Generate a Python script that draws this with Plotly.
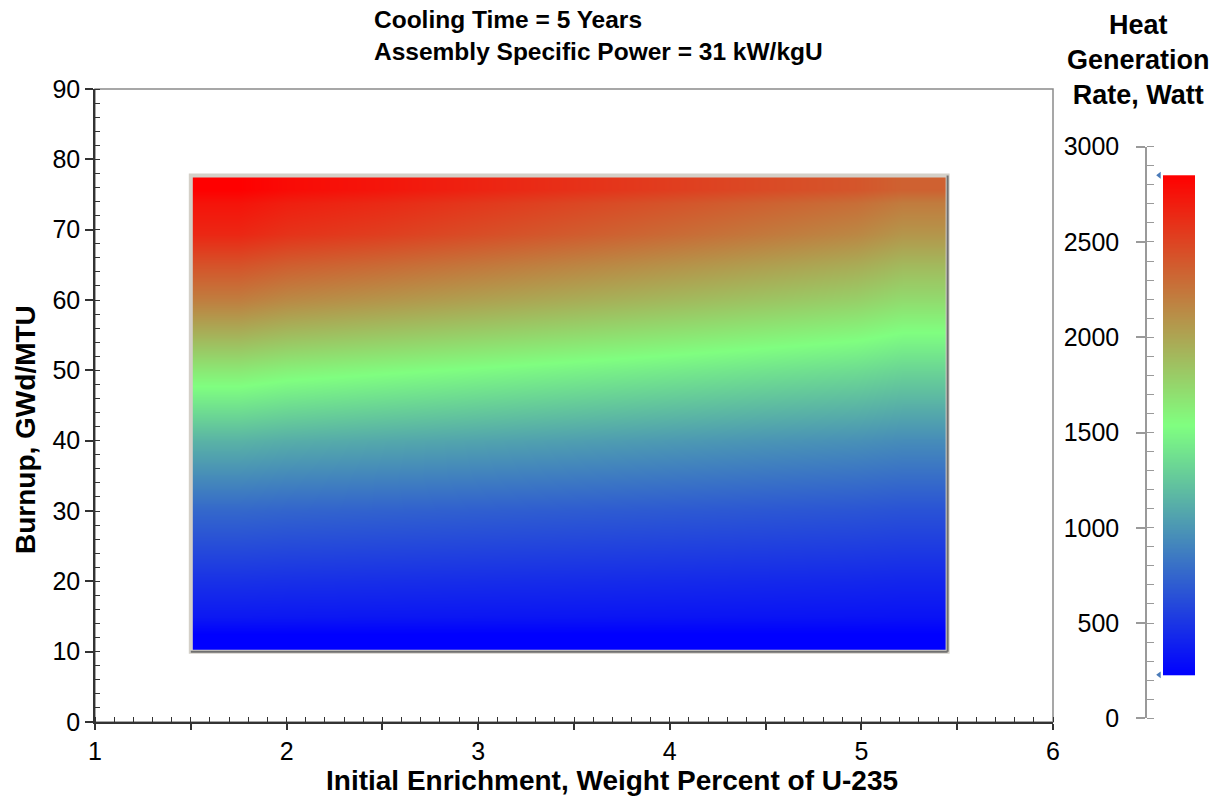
import numpy as np
import plotly.graph_objects as go

# ---------------- data ----------------
enrichment = [1.5, 2.5, 3.5, 4.5, 5.45]          # wt% U-235
burnup = [10, 20, 30, 40, 50, 60, 70, 77.7]      # GWd/MTU
heat_e15 = [230, 480, 760, 1150, 1650, 2200, 2650, 2850]
heat_e25 = [230, 465, 730, 1095, 1560, 2080, 2530, 2740]
heat_e35 = [229, 450, 700, 1045, 1475, 1960, 2380, 2600]
heat_e45 = [228, 435, 675, 995, 1395, 1840, 2230, 2470]
heat_e545 = [228, 420, 650, 950, 1320, 1720, 2080, 2350]

title_text = "Cooling Time = 5 Years<br>Assembly Specific Power = 31 kW/kgU"
x_title = "Initial Enrichment, Weight Percent of U-235"
y_title = "Burnup, GWd/MTU"
cb_title = "Heat<br>Generation<br>Rate, Watt"
x_ticks = [1, 2, 3, 4, 5, 6]
cb_ticks = [0, 500, 1000, 1500, 2000, 2500, 3000]

# ---------------- derived ----------------
z = np.array([heat_e15, heat_e25, heat_e35, heat_e45, heat_e545]).T
zmin, zmax = float(z.min()), float(z.max())


def edges(c):
    c = list(c)
    mids = [(a + b) / 2 for a, b in zip(c[:-1], c[1:])]
    return [c[0]] + mids + [c[-1]]


x_edges = edges(enrichment)
y_edges = edges(burnup)

colorscale = [[0, "rgb(0,0,255)"], [0.5, "rgb(128,255,128)"], [1, "rgb(255,0,0)"]]
FONT = "Liberation Sans, Arial, sans-serif"

W, H = 1221, 802
ML, MR, MT, MB = 95, 0, 89, 80
PW, PH = W - ML - MR, H - MT - MB


def fx(px):
    return (px - ML) / PW


def fy(py):
    return (H - MB - py) / PH


fig = go.Figure()

fig.add_trace(go.Heatmap(
    x=x_edges, y=y_edges, z=z, zsmooth="best",
    colorscale=colorscale, zmin=zmin, zmax=zmax, showscale=False,
    hoverinfo="skip",
))

# colour bar drawn as its own heatmap on a 0-3000 scale
cb_edges = np.linspace(zmin, zmax, 401)
cb_vals = (cb_edges[:-1] + cb_edges[1:]) / 2
fig.add_trace(go.Heatmap(
    x=[0, 1], y=cb_edges, z=cb_vals.reshape(-1, 1), zsmooth=False,
    colorscale=colorscale, zmin=zmin, zmax=zmax, showscale=False,
    xaxis="x2", yaxis="y2", hoverinfo="skip",
))
fig.add_trace(go.Scatter(
    x=[-0.12, -0.12], y=[zmin, zmax], mode="markers",
    marker=dict(symbol="triangle-left", size=6, color="#4a7ab8"),
    xaxis="x2", yaxis="y2", hoverinfo="skip", showlegend=False,
))

# frame around heatmap
x0, x1, y0, y1 = enrichment[0], enrichment[-1], burnup[0], burnup[-1]
fig.add_shape(type="rect", x0=x0, x1=x1, y0=y0, y1=y1, xref="x", yref="y",
              line=dict(color="#d4d0c8", width=4), layer="above")
fig.add_shape(type="line", x0=x1, x1=x1, y0=y0, y1=y1, xref="x", yref="y",
              line=dict(color="#707070", width=2), layer="above")
fig.add_shape(type="line", x0=x0, x1=x1, y0=y0, y1=y0, xref="x", yref="y",
              line=dict(color="#707070", width=2), layer="above")
# top/right plot frame
fig.add_shape(type="rect", x0=0, x1=1, y0=0, y1=1, xref="x domain", yref="y domain",
              line=dict(color="#8a8a8a", width=1.5), layer="below")

tickfont = dict(family=FONT, size=25, color="black")
half_vals = list(np.arange(x_ticks[0], x_ticks[-1] + 0.01, 0.5))
half_text = [str(int(v)) if float(v).is_integer() else "" for v in half_vals]

fig.update_layout(
    width=W, height=H, autosize=False,
    margin=dict(l=ML, r=MR, t=MT, b=MB, pad=0, autoexpand=False),
    paper_bgcolor="white", plot_bgcolor="white",
    showlegend=False,
    xaxis=dict(domain=[0, fx(1053)], range=[1, 6], tickmode="array",
               tickvals=half_vals, ticktext=half_text, automargin=False,
               ticks="outside", ticklen=6, tickwidth=1.5, tickcolor="#333",
               showline=True, linecolor="#333", linewidth=1.5,
               showgrid=False, zeroline=False, tickfont=tickfont,
               minor=dict(dtick=0.1, tick0=1, ticks="inside", ticklen=5,
                          tickwidth=1, tickcolor="#333", showgrid=False)),
    yaxis=dict(domain=[0, 1], range=[0, 90], dtick=10, tick0=0, automargin=False,
               ticks="outside", ticklen=8, tickwidth=1.5, tickcolor="#333",
               showline=True, linecolor="#333", linewidth=1.5,
               showgrid=False, zeroline=False, tickfont=tickfont,
               minor=dict(dtick=2, ticks="inside", ticklen=5,
                          tickwidth=1, tickcolor="#333", showgrid=False)),
    xaxis2=dict(domain=[fx(1153.4), fx(1195)], range=[-0.3, 1], visible=False,
                anchor="y2", fixedrange=True, automargin=False),
    yaxis2=dict(domain=[fy(718.3), fy(146.7)], range=[0, 3000], automargin=False,
                tickmode="array", tickvals=cb_ticks,
                anchor="free", position=fx(1146), side="left",
                ticks="outside", ticklen=9, tickwidth=1.5, tickcolor="#9a9a9a",
                showline=True, linecolor="#9a9a9a", linewidth=1.5,
                showgrid=False, zeroline=False, tickfont=tickfont,
                ticklabelstandoff=12,
                minor=dict(dtick=100, tick0=0, ticks="inside", ticklen=7,
                           tickwidth=1, tickcolor="#9a9a9a", showgrid=False)),
    annotations=[
        dict(text=title_text, xref="paper", yref="paper", x=fx(372), y=fy(4),
             xanchor="left", yanchor="top", align="left", showarrow=False,
             font=dict(family=FONT, size=24.5, color="black", weight="bold")),
        dict(text=x_title, xref="paper", yref="paper", x=fx(612), y=fy(780),
             xanchor="center", yanchor="middle", showarrow=False,
             font=dict(family=FONT, size=28, color="black", weight="bold")),
        dict(text=y_title, xref="paper", yref="paper", x=fx(25), y=fy(430),
             xanchor="center", yanchor="middle", showarrow=False, textangle=-90,
             font=dict(family=FONT, size=28, color="black", weight="bold")),
        dict(text=cb_title, xref="paper", yref="paper", x=fx(1138), y=fy(60),
             xanchor="center", yanchor="middle", showarrow=False,
             font=dict(family=FONT, size=27, color="black", weight="bold")),
    ],
)

fig.write_html(
    "out.html",
    config={"displayModeBar": False, "responsive": False},
    post_script=("document.documentElement.style.overflow='hidden';"
                 "document.body.style.overflow='hidden';"
                 "document.body.style.margin='0px';"),
)
